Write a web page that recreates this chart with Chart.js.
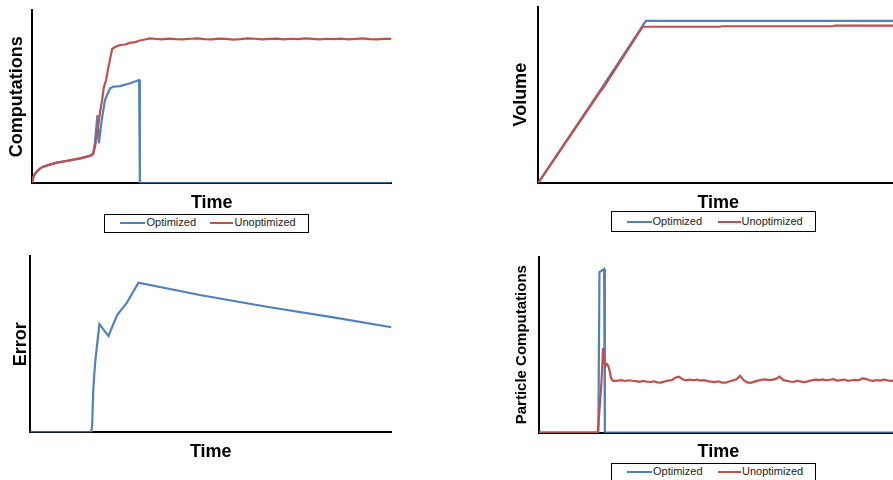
<!DOCTYPE html>
<html><head><meta charset="utf-8">
<script src="https://cdn.jsdelivr.net/npm/chart.js@4.4.1/dist/chart.umd.min.js"></script>
<style>
html,body{margin:0;padding:0;background:#fff;width:893px;height:480px;overflow:hidden;}
#wrap{position:relative;width:893px;height:480px;overflow:hidden;background:#fff;}
canvas{position:absolute;}
.legend{position:absolute;box-sizing:border-box;border:1.5px solid #000;background:#fff;font-family:'Liberation Sans',Arial,sans-serif;font-size:11px;color:#222;}
.legend .ln{position:absolute;height:2px;}
.legend .tx{position:absolute;line-height:13px;height:13px;white-space:nowrap;}
</style></head><body><div id="wrap"></div>
<script>
// ---------- data ----------
const seriesNames = ['Optimized', 'Unoptimized'];
const seriesColors = ['#4F81BD', '#C0504D'];
const timeLabel = 'Time';
const yTitles = ['Computations', 'Volume', 'Error', 'Particle Computations'];

// Chart 1: Computations
const compTimeUnopt = [0,0.4,0.8,1.3,2.1,3.1,4.9,6.9,9.7,13.4,16.1,17.0,17.5,18.1,18.9,19.5,20.0,20.6,21.1,21.7,22.3,23.1,24.5,25.9,27.3,28.7,30.0,31.4,32.8,
  34,36,38,40,42,44,46,48,50,52,54,56,58,60,62,64,66,68,70,72,74,76,78,80,82,84,86,88,90,92,94,96,98,100];
const compUnopt = [0,3.8,5.4,6.7,8.3,9.6,10.8,11.9,12.9,14.4,15.8,16.9,20.9,27.9,40.6,48.0,55.6,59.6,65.4,71.5,77.5,78.6,79.8,80.1,81.0,81.5,82.4,83.0,83.6,
  83.4,83.1,83.5,83.2,83.0,83.4,83.6,83.2,83.1,83.5,83.3,82.9,83.2,83.6,83.4,83.0,83.3,83.5,83.1,83.4,83.2,83.6,83.3,83.0,83.4,83.2,83.5,83.1,83.3,83.6,83.2,83.0,83.4,83.3];
const compTimeOpt = [0,0.4,0.8,1.3,2.1,3.1,4.9,6.9,9.7,13.4,16.1,17.0,17.5,18.2,18.6,19.4,20.3,21.7,22.6,24.5,27.3,29.8,30.0,100];
const compOpt = [0,3.8,5.4,6.7,8.3,9.6,10.8,11.9,12.9,14.4,15.8,16.9,23.3,39.4,23.1,36.5,48.0,54.8,55.7,56.1,57.7,59.6,0,0];

// Chart 2: Volume
const volTimeOpt = [0,17.2,29.9,100];
const volOpt = [0,52.4,92.0,92.0];
const volTimeUnopt = [0,17.2,18.0,29.0,50.5,51.0,81.9,82.4,100];
const volUnopt = [0,51.8,53.8,88.6,88.6,88.9,88.9,89.3,89.3];

// Chart 3: Error
const errTime = [0,16.9,17.2,17.5,18.0,18.4,19.2,21.7,24.1,26.7,30.0,47.0,65.5,83.9,100];
const errOpt = [0,0,4.1,24.0,39.1,46.7,61.4,54.6,66.5,73.2,84.9,77.9,71.2,65.2,59.6];

// Chart 4: Particle Computations
const pcTimeOpt = [0,16.6,16.9,18.2,18.4,100];
const pcOpt = [0,0,91.3,93.0,0,0];
const pcTimeUnopt = [0,16.4,16.6,17.1,17.5,17.9,18.2,18.6,19.0,19.4,19.8,20.1,20.7,21.2,
  22,23,24,25,26,27,28,29,30,31,32,33,34,35,36,37,38,39,40,41,42,43,44,45,46,47,48,49,50,51,52,53,54,55,56,57,58,59,60,61,
  62,63,64,65,66,67,68,69,70,71,72,73,74,75,76,77,78,79,80,81,82,83,84,85,86,87,88,89,90,91,92,93,94,95,96,97,98,99,100];
const pcUnopt = [0,0,4.4,18.6,30.0,48.1,40.2,37.9,39.0,37.9,34.5,31.1,29.4,29.4,
  29.6,29.9,29.4,29.8,29.5,29.3,
  28.9,29.4,29.0,28.8,29.2,28.6,
  28.5,29.1,29.6,29.9,31.2,31.8,
  30.4,29.7,30.1,29.8,30.2,29.6,
  29.9,29.3,29.0,28.7,29.2,28.5,
  28.4,29.1,29.7,30.4,32.3,29.8,
  28.6,28.3,29.0,29.6,30.1,30.3,
  29.9,30.2,30.6,31.9,30.0,29.4,
  29.1,28.9,29.5,29.0,28.7,29.3,
  29.8,30.2,29.9,30.3,29.7,30.1,
  30.4,29.6,29.9,30.2,29.5,29.8,
  30.0,29.7,30.9,30.6,29.8,29.5,
  29.9,29.6,30.2,29.8,29.4,29.7,29.5];

// ---------- rendering ----------
const FONT = "'Liberation Sans', Arial, sans-serif";
const wrap = document.getElementById('wrap');

function pts(t, v) { return t.map((x, i) => ({x: x, y: v[i]})); }

function makeChart(cfg) {
  const c = document.createElement('canvas');
  c.width = cfg.w; c.height = cfg.h;
  c.style.left = cfg.left + 'px'; c.style.top = cfg.top + 'px';
  c.style.width = cfg.w + 'px'; c.style.height = cfg.h + 'px';
  wrap.appendChild(c);
  new Chart(c, {
    type: 'line',
    data: {
      datasets: cfg.series.map(s => ({
        label: s.name, data: pts(s.t, s.v),
        borderColor: s.color, backgroundColor: s.color,
        borderWidth: 2.2, pointRadius: 0, tension: 0, fill: false, order: s.order
      }))
    },
    options: {
      responsive: false, animation: false, devicePixelRatio: 1,
      layout: {padding: cfg.pad},
      plugins: {legend: {display: false}, tooltip: {enabled: false}},
      scales: {
        x: {
          type: 'linear', min: 0, max: 100,
          grid: {display: false, drawTicks: false, tickLength: 0}, ticks: {display: false},
          border: {display: true, color: '#000', width: 2},
          title: {display: true, text: timeLabel, color: '#000',
            font: {family: FONT, size: 18, weight: 'bold'},
            padding: {top: cfg.xtp, bottom: 0}}
        },
        y: {
          min: 0, max: 100,
          grid: {display: false, drawTicks: false, tickLength: 0}, ticks: {display: false},
          border: {display: true, color: '#000', width: 2},
          title: {display: true, text: cfg.ytitle, color: '#000',
            font: {family: FONT, size: cfg.ysize, weight: 'bold'},
            padding: {top: 5, bottom: cfg.ytb}}
        }
      }
    }
  });
}

function makeLegend(L) {
  const d = document.createElement('div');
  d.className = 'legend';
  d.style.left = L.box[0] + 'px'; d.style.top = L.box[1] + 'px';
  d.style.width = L.box[2] + 'px'; d.style.height = L.box[3] + 'px';
  const b = 1.5;
  seriesNames.forEach((name, i) => {
    const ln = document.createElement('div');
    ln.className = 'ln';
    ln.style.background = seriesColors[i];
    ln.style.left = (L.lines[i][0] - L.box[0] - b) + 'px';
    ln.style.width = (L.lines[i][1] - L.lines[i][0]) + 'px';
    ln.style.top = (L.cy - 1 - L.box[1] - b) + 'px';
    d.appendChild(ln);
    const tx = document.createElement('div');
    tx.className = 'tx';
    tx.textContent = name;
    tx.style.left = (L.tx[i] - L.box[0] - b) + 'px';
    tx.style.top = (L.cy - 6.4 - L.box[1] - b) + 'px';
    d.appendChild(tx);
  });
  wrap.appendChild(d);
}

makeChart({left: 0, top: 0, w: 392, h: 214, pad: {left: 1, top: 10, right: 0.5, bottom: 0},
  xtp: 9.1, ytitle: yTitles[0], ysize: 18, ytb: 4.4,
  series: [
    {name: seriesNames[0], t: compTimeOpt, v: compOpt, color: seriesColors[0], order: 1},
    {name: seriesNames[1], t: compTimeUnopt, v: compUnopt, color: seriesColors[1], order: 0}
  ]});

makeChart({left: 500, top: 0, w: 400, h: 214, pad: {left: 5.4, top: 6.7, right: 1.8, bottom: 0},
  xtp: 9.7, ytitle: yTitles[1], ysize: 18, ytb: 6.3,
  series: [
    {name: seriesNames[0], t: volTimeOpt, v: volOpt, color: seriesColors[0], order: 1},
    {name: seriesNames[1], t: volTimeUnopt, v: volUnopt, color: seriesColors[1], order: 0}
  ]});

makeChart({left: 0, top: 240, w: 392, h: 223, pad: {left: 5.7, top: 16, right: 0.5, bottom: 0},
  xtp: 9.1, ytitle: yTitles[2], ysize: 18, ytb: -2.3,
  series: [
    {name: seriesNames[0], t: errTime, v: errOpt, color: seriesColors[0], order: 1}
  ]});

makeChart({left: 500, top: 240, w: 400, h: 223, pad: {left: 7.7, top: 16.7, right: 1.8, bottom: 0},
  xtp: 8.7, ytitle: yTitles[3], ysize: 15, ytb: 8,
  series: [
    {name: seriesNames[0], t: pcTimeOpt, v: pcOpt, color: seriesColors[0], order: 1},
    {name: seriesNames[1], t: pcTimeUnopt, v: pcUnopt, color: seriesColors[1], order: 0}
  ]});

makeLegend({box: [104, 214, 205, 18.7], lines: [[120, 145], [210, 233]], tx: [147, 235], cy: 223.3});
makeLegend({box: [611, 211, 205, 21], lines: [[627, 652], [718, 741]], tx: [653, 742], cy: 222.3});
makeLegend({box: [611, 463, 205, 21], lines: [[627.5, 652], [718, 741]], tx: [653.5, 742.5], cy: 472.3});
</script>
</body></html>
